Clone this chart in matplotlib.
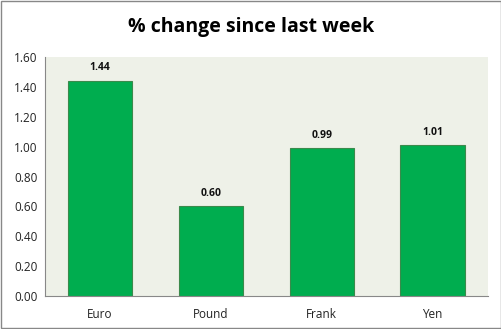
import matplotlib
matplotlib.use("Agg")
import matplotlib.pyplot as plt
from matplotlib.patches import Rectangle

categories = ["Euro", "Pound", "Frank", "Yen"]
values = [1.44, 0.60, 0.99, 1.01]
yticks = [0.0, 0.2, 0.4, 0.6, 0.8, 1.0, 1.2, 1.4, 1.6]

plt.rcParams['font.family'] = ['Open Sans', 'DejaVu Sans']

fig = plt.figure(figsize=(5.02, 3.29), dpi=100)
fig.patch.set_facecolor("white")
ax = fig.add_axes([44.5 / 502, 1 - 296 / 329, (488 - 44.5) / 502, (296 - 57) / 329])
ax.set_facecolor("#eef1e8")

x = range(len(categories))
ax.bar(x, values, width=0.58, color="#00ad4f", edgecolor="#3b8a4c", linewidth=0.8, zorder=2)
for xi, v in zip(x, values):
    ax.text(xi, v + 0.05, f"{v:.2f}", ha="center", va="bottom", fontsize=7.5,
            fontweight="bold", color="#111111")

ax.set_xlim(-0.5, len(categories) - 0.5)
ax.set_ylim(0, 1.6)
ax.set_yticks(yticks)
ax.set_yticklabels([f"{t:.2f}" for t in yticks], fontsize=8.5, color="#222222")
ax.set_xticks(list(x))
ax.set_xticklabels(categories, fontsize=8.5, color="#222222")
ax.tick_params(axis="x", length=0, pad=9)
ax.tick_params(axis="y", length=0, pad=5)
for side in ("top", "right"):
    ax.spines[side].set_visible(False)
for side in ("left", "bottom"):
    ax.spines[side].set_color("#888888")
    ax.spines[side].set_linewidth(0.8)

fig.text(0.5, 1 - 27 / 329, "% change since last week", ha="center", va="center",
         fontsize=14, fontweight="bold", color="#000000")

fig.patches.append(Rectangle((0.001, 0.002), 0.997, 0.995, transform=fig.transFigure,
                             fill=False, edgecolor="#888888", linewidth=1.0))

fig.savefig("out.png", dpi=100)
